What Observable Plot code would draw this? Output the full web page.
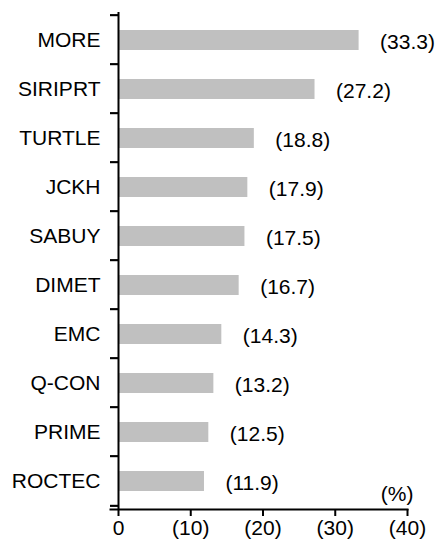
<!DOCTYPE html>
<html>
<head>
<meta charset="utf-8">
<script src="https://cdn.jsdelivr.net/npm/d3@7"></script>
<script src="https://cdn.jsdelivr.net/npm/@observablehq/plot@0.6"></script>
<style>
  html, body { margin: 0; padding: 0; background: #fff; }
  #chart { width: 440px; height: 545px; }
</style>
</head>
<body>
<div id="chart"></div>
<script>
const names = ["MORE", "SIRIPRT", "TURTLE", "JCKH", "SABUY", "DIMET", "EMC", "Q-CON", "PRIME", "ROCTEC"];
const values = [33.3, 27.2, 18.8, 17.9, 17.5, 16.7, 14.3, 13.2, 12.5, 11.9];
const xTicks = [0, 10, 20, 30, 40];
const xTickLabels = ["0", "(10)", "(20)", "(30)", "(40)"];
const unitLabel = "(%)";

const data = names.map((n, i) => ({name: n, value: values[i]}));

const W = 440, H = 545, mT = 12, mB = 36, mR = 33;
const axisX0 = 118;
const tickPx = 8;
const mL = axisX0 - tickPx;
const xMax = 40;
const padInner = 0.6;
const step = (H - mT - mB) / names.length;
const bandW = step * (1 - padInner);
const tickLen = tickPx * xMax / (W - axisX0 - mR);
const tickInset = (bandW - 2) / 2;

const chart = Plot.plot({
  width: W, height: H,
  marginTop: mT, marginBottom: mB, marginLeft: mL, marginRight: mR,
  style: {fontFamily: "Arial, 'Liberation Sans', sans-serif", fontSize: "21px", color: "#000", background: "#fff"},
  x: {domain: [-tickLen, xMax]},
  y: {domain: names, paddingInner: padInner, paddingOuter: padInner / 2},
  marks: [
    Plot.barX(data, {x: "value", y: "name", fill: "#c0c0c0"}),
    Plot.barX(data, {x1: -tickLen, x2: 0, y: "name", dy: -step / 2, insetTop: tickInset, insetBottom: tickInset, fill: "#000"}),
    Plot.barX(data.slice(-1), {x1: -tickLen, x2: 0, y: "name", dy: step / 2, insetTop: tickInset, insetBottom: tickInset, fill: "#000"}),
    Plot.text(data, {x: "value", y: "name", text: d => `(${d.value.toFixed(1)})`, textAnchor: "start", dx: 21, dy: 2, fill: "#000"}),
    Plot.axisY({tickSize: 0, tickPadding: 10, label: null}),
    Plot.ruleX([0], {stroke: "#000", strokeWidth: 2}),
    Plot.frame({anchor: "bottom", stroke: "#000", strokeWidth: 2}),
    Plot.axisX({ticks: xTicks, tickFormat: d => xTickLabels[xTicks.indexOf(d)], tickSize: 7, tickPadding: 4, strokeWidth: 2, label: null}),
    Plot.text([unitLabel], {frameAnchor: "bottom-right", textAnchor: "end", dx: 6, dy: -9, fill: "#000"})
  ]
});
document.getElementById("chart").append(chart);
</script>
</body>
</html>
